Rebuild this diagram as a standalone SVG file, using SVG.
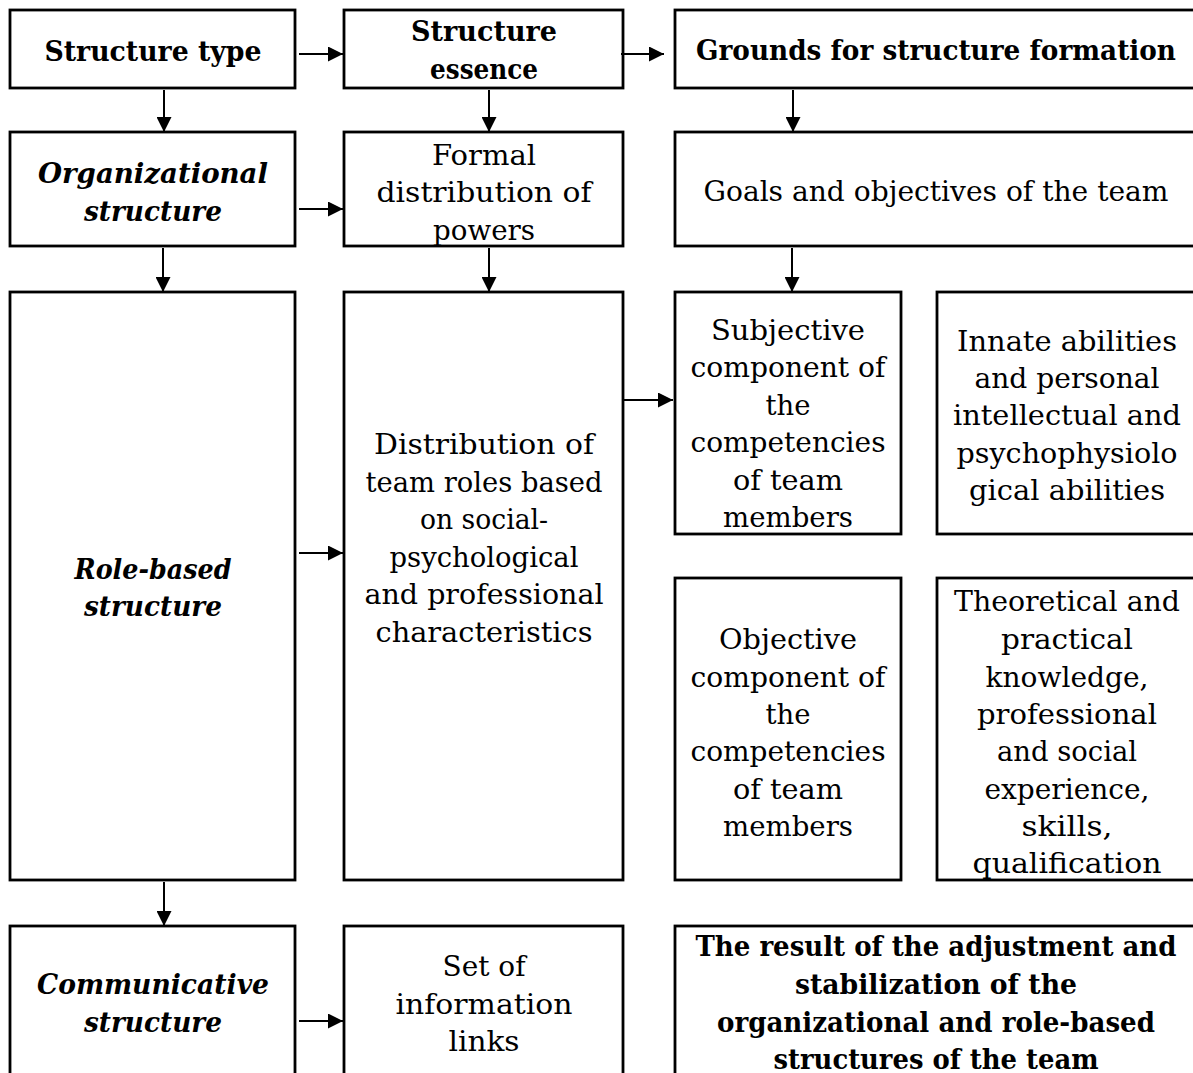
<svg xmlns="http://www.w3.org/2000/svg" width="1193" height="1073" viewBox="0 0 1193 1073">
<defs>
<marker id="ah" markerWidth="15" markerHeight="15" refX="15" refY="7.5" orient="auto" markerUnits="userSpaceOnUse">
<path d="M0,0 L15,7.5 L0,15 Z" fill="#000"/>
</marker>
<style>
rect{fill:#fff;stroke:#000;stroke-width:2.8}
text{font-family:"DejaVu Serif","Liberation Serif",serif;font-size:28px;fill:#000;text-anchor:middle}
.b{font-weight:bold}
.bi{font-weight:bold;font-style:italic}
.c line{stroke:#000;stroke-width:2;marker-end:url(#ah)}
</style>
</defs>
<rect width="1193" height="1073" fill="#fff" style="stroke:none"/>
<g id="n-structure-type"><rect x="10" y="10" width="285" height="78"/><text class="b" x="153" y="61" textLength="217" lengthAdjust="spacingAndGlyphs">Structure type</text></g>
<g id="n-structure-essence"><rect x="344" y="10" width="279" height="78"/><text class="b" x="484" y="41" textLength="146" lengthAdjust="spacingAndGlyphs">Structure</text><text class="b" x="484" y="79" textLength="108" lengthAdjust="spacingAndGlyphs">essence</text></g>
<g id="n-grounds"><rect x="675" y="10" width="525" height="78"/><text class="b" x="936" y="60" textLength="480" lengthAdjust="spacingAndGlyphs">Grounds for structure formation</text></g>

<g id="n-organizational"><rect x="10" y="132" width="285" height="114"/><text class="bi" x="153" y="183" textLength="230" lengthAdjust="spacingAndGlyphs">Organizational</text><text class="bi" x="153" y="221" textLength="138" lengthAdjust="spacingAndGlyphs">structure</text></g>
<g id="n-formal"><rect x="344" y="132" width="279" height="114"/><text x="484" y="165" textLength="104" lengthAdjust="spacingAndGlyphs">Formal</text><text x="484" y="202" textLength="215" lengthAdjust="spacingAndGlyphs">distribution of</text><text x="484" y="240" textLength="102" lengthAdjust="spacingAndGlyphs">powers</text></g>
<g id="n-goals"><rect x="675" y="132" width="525" height="114"/><text x="936" y="201" textLength="465" lengthAdjust="spacingAndGlyphs">Goals and objectives of the team</text></g>

<g id="n-role-based"><rect x="10" y="292" width="285" height="588"/><text class="bi" x="153" y="579" textLength="157" lengthAdjust="spacingAndGlyphs">Role-based</text><text class="bi" x="153" y="616" textLength="138" lengthAdjust="spacingAndGlyphs">structure</text></g>
<g id="n-distribution"><rect x="344" y="292" width="279" height="588"/>
<text x="484" y="454" textLength="220" lengthAdjust="spacingAndGlyphs">Distribution of</text>
<text x="484" y="492" textLength="237" lengthAdjust="spacingAndGlyphs">team roles based</text>
<text x="484" y="529" textLength="128" lengthAdjust="spacingAndGlyphs">on social-</text>
<text x="484" y="567" textLength="189" lengthAdjust="spacingAndGlyphs">psychological</text>
<text x="484" y="604" textLength="239" lengthAdjust="spacingAndGlyphs">and professional</text>
<text x="484" y="642" textLength="217" lengthAdjust="spacingAndGlyphs">characteristics</text></g>
<g id="n-subjective"><rect x="675" y="292" width="226" height="242"/>
<text x="788" y="340" textLength="154" lengthAdjust="spacingAndGlyphs">Subjective</text>
<text x="788" y="377" textLength="195" lengthAdjust="spacingAndGlyphs">component of</text>
<text x="788" y="415" textLength="45" lengthAdjust="spacingAndGlyphs">the</text>
<text x="788" y="452" textLength="195" lengthAdjust="spacingAndGlyphs">competencies</text>
<text x="788" y="490" textLength="110" lengthAdjust="spacingAndGlyphs">of team</text>
<text x="788" y="527" textLength="130" lengthAdjust="spacingAndGlyphs">members</text></g>
<g id="n-innate"><rect x="937" y="292" width="263" height="242"/>
<text x="1067" y="351" textLength="220" lengthAdjust="spacingAndGlyphs">Innate abilities</text>
<text x="1067" y="388" textLength="185" lengthAdjust="spacingAndGlyphs">and personal</text>
<text x="1067" y="425" textLength="228" lengthAdjust="spacingAndGlyphs">intellectual and</text>
<text x="1067" y="463" textLength="221" lengthAdjust="spacingAndGlyphs">psychophysiolo</text>
<text x="1067" y="500" textLength="196" lengthAdjust="spacingAndGlyphs">gical abilities</text></g>
<g id="n-objective"><rect x="675" y="578" width="226" height="302"/>
<text x="788" y="649" textLength="138" lengthAdjust="spacingAndGlyphs">Objective</text>
<text x="788" y="687" textLength="195" lengthAdjust="spacingAndGlyphs">component of</text>
<text x="788" y="724" textLength="45" lengthAdjust="spacingAndGlyphs">the</text>
<text x="788" y="761" textLength="195" lengthAdjust="spacingAndGlyphs">competencies</text>
<text x="788" y="799" textLength="110" lengthAdjust="spacingAndGlyphs">of team</text>
<text x="788" y="836" textLength="130" lengthAdjust="spacingAndGlyphs">members</text></g>
<g id="n-theoretical"><rect x="937" y="578" width="263" height="302"/>
<text x="1067" y="611" textLength="226" lengthAdjust="spacingAndGlyphs">Theoretical and</text>
<text x="1067" y="649" textLength="132" lengthAdjust="spacingAndGlyphs">practical</text>
<text x="1067" y="687" textLength="163" lengthAdjust="spacingAndGlyphs">knowledge,</text>
<text x="1067" y="724" textLength="180" lengthAdjust="spacingAndGlyphs">professional</text>
<text x="1067" y="761" textLength="140" lengthAdjust="spacingAndGlyphs">and social</text>
<text x="1067" y="799" textLength="165" lengthAdjust="spacingAndGlyphs">experience,</text>
<text x="1067" y="836" textLength="91" lengthAdjust="spacingAndGlyphs">skills,</text>
<text x="1067" y="873" textLength="189" lengthAdjust="spacingAndGlyphs">qualification</text></g>

<g id="n-communicative"><rect x="10" y="926" width="285" height="160"/><text class="bi" x="153" y="994" textLength="232" lengthAdjust="spacingAndGlyphs">Communicative</text><text class="bi" x="153" y="1032" textLength="138" lengthAdjust="spacingAndGlyphs">structure</text></g>
<g id="n-set-of-links"><rect x="344" y="926" width="279" height="160"/><text x="484" y="976" textLength="83" lengthAdjust="spacingAndGlyphs">Set of</text><text x="484" y="1014" textLength="177" lengthAdjust="spacingAndGlyphs">information</text><text x="484" y="1051" textLength="71" lengthAdjust="spacingAndGlyphs">links</text></g>
<g id="n-result"><rect x="675" y="926" width="525" height="160"/>
<text class="b" x="936" y="956" textLength="481" lengthAdjust="spacingAndGlyphs">The result of the adjustment and</text>
<text class="b" x="936" y="994" textLength="282" lengthAdjust="spacingAndGlyphs">stabilization of the</text>
<text class="b" x="936" y="1032" textLength="438" lengthAdjust="spacingAndGlyphs">organizational and role-based</text>
<text class="b" x="936" y="1069" textLength="325" lengthAdjust="spacingAndGlyphs">structures of the team</text></g>

<g id="connectors" class="c">
<line x1="299" y1="54" x2="343" y2="54"/>
<line x1="621" y1="54" x2="664" y2="54"/>
<line x1="164" y1="90" x2="164" y2="132"/>
<line x1="489" y1="90" x2="489" y2="132"/>
<line x1="793" y1="90" x2="793" y2="132"/>
<line x1="299" y1="209" x2="343" y2="209"/>
<line x1="163" y1="248" x2="163" y2="292"/>
<line x1="489" y1="248" x2="489" y2="292"/>
<line x1="792" y1="248" x2="792" y2="292"/>
<line x1="299" y1="553" x2="343" y2="553"/>
<line x1="623" y1="400" x2="673" y2="400"/>
<line x1="164" y1="882" x2="164" y2="926"/>
<line x1="299" y1="1021" x2="343" y2="1021"/>
</g>
</svg>
